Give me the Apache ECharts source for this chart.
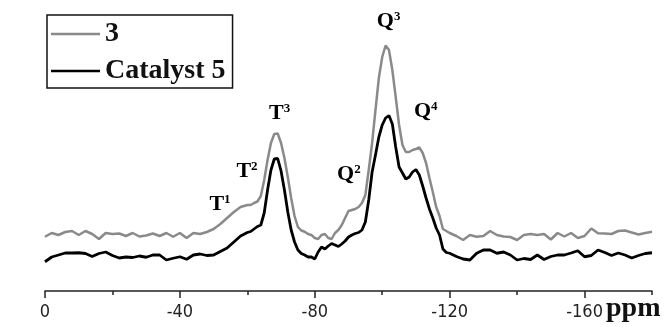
<!DOCTYPE html>
<html><head><meta charset="utf-8">
<script src="https://cdn.jsdelivr.net/npm/echarts@6/dist/echarts.min.js"></script>
<style>html,body{margin:0;padding:0;background:#fff}#c{width:665px;height:327px}</style>
</head><body><div id="c"></div>
<script>
// chemical shift (ppm)
const ppm = [0,-2,-4,-6,-8,-10,-12,-14,-16,-18,-20,-22,-24,-26,-28,-30,-32,-34,-36,-38,-40,-42,-44,-46,-48,-50,-52,-54,-56,-58,-60,
-61,-62,-63,-64,-65,-66,-67,-68,-69,-70,-71,-72,-73,-74,-75,-76,-77,-78,-79,-80,
-81,-82,-83,-84,-85,-86,-87,-88,-89,-90,-91,-92,-93,-94,-95,-96,-97,-98,-99,-100,
-101,-102,-103,-104,-105,-106,-107,-108,-109,-110,-111,-112,-113,-114,-115,-116,-117,-118,-119,-120,
-122,-124,-126,-128,-130,-132,-134,-136,-138,-140,-142,-144,-146,-148,-150,-152,-154,-156,-158,-160,
-162,-164,-166,-168,-170,-172,-174,-176,-178,-180];
// spectrum of 3 (grey)
const spec3 = [21.7,23.2,22.4,23.6,24.0,22.4,24.0,22.8,20.8,23.2,22.8,23.0,22.0,23.2,21.8,22.2,23.0,22.0,23.2,21.7,23.2,21.2,23.2,22.8,23.6,24.8,26.8,29.2,31.6,33.6,34.4,
34.4,35.2,35.8,38.0,44.4,52.4,59.2,62.8,63.0,59.2,
53.2,45.6,37.2,30.0,25.6,24.2,23.7,22.8,22.4,21.2,
20.8,22.4,22.8,21.2,20.8,23.2,24.4,26.4,29.2,32.0,
32.4,32.8,33.6,35.2,38.4,48.4,59.2,72.4,85.2,93.6,
98.2,96.4,88.4,77.6,66.4,58.4,55.6,55.6,56.4,56.8,
57.4,55.2,51.2,45.2,39.6,33.6,30.0,24.8,24.0,23.2,
22.0,20.4,22.4,21.7,22.0,24.0,22.4,21.8,21.6,20.4,22.4,22.8,22.4,22.8,20.6,23.2,21.8,23.2,21.2,22.0,
25.0,23.1,23.0,22.8,24.0,24.2,23.4,22.6,23.2,23.7];
// spectrum of Catalyst 5 (black)
const specCat5 = [11.7,13.6,14.4,15.2,15.2,15.3,15.0,13.8,15.0,15.6,14.2,13.2,13.6,13.4,14.0,13.5,14.4,14.4,12.4,13.1,13.7,12.7,14.4,14.8,14.2,14.4,15.8,17.2,19.6,22.0,23.4,
23.8,24.8,25.8,26.4,31.2,40.4,48.4,52.8,53.0,48.0,
40.4,31.6,24.4,19.6,16.4,15.0,14.4,13.6,13.6,12.8,
15.6,17.6,16.8,18.0,19.0,18.4,17.8,18.8,20.0,21.6,
22.4,23.0,23.4,24.4,27.6,36.4,47.6,54.4,61.6,66.4,
69.2,70.2,66.8,57.6,49.6,47.2,44.8,45.6,47.6,48.6,
46.4,42.0,37.2,32.8,29.2,25.2,22.4,16.8,15.4,15.1,
13.8,12.8,12.4,15.1,16.4,16.4,15.1,15.6,14.4,12.4,13.0,12.6,14.4,12.6,13.8,14.4,14.4,15.2,16.1,13.7,
14.2,16.4,15.4,14.2,15.2,14.4,13.2,14.2,15.0,15.3];
const seriesNames = ['3','Catalyst 5'];
// peak assignment labels
const peakBase = ['T','T','T','Q','Q','Q'];
const peakSup = ['1','2','3','2','3','4'];
const peakPpm = [-51.9,-59.9,-69.6,-90.1,-101.9,-112.9];
const peakInt = [34.8,48,71,46.8,108,71.8];
// axis ticks
const majorTicks = [0,-40,-80,-120,-160];
const minorTicks = [-20,-60,-100,-140,-180];

const chart = echarts.init(document.getElementById('c'), null, {renderer:'canvas'});
const serif = '"Liberation Serif","Times New Roman",serif';
const peakData = peakBase.map((b,i)=>({value:[peakPpm[i],peakInt[i]], b:b, s:peakSup[i]}));
chart.setOption({
  animation:false,
  backgroundColor:'#fff',
  grid:{left:45,right:13,top:16,bottom:36,containLabel:false},
  legend:{
    data:seriesNames, orient:'vertical', left:47, top:15,
    icon:'rect', itemWidth:49, itemHeight:2.5, itemGap:7,
    padding:[4,7,2,4], borderColor:'#111', borderWidth:1.5,
    textStyle:{fontFamily:serif, fontWeight:'bold', fontSize:28, color:'#111', lineHeight:30}
  },
  xAxis:[{
    type:'value', min:-180, max:0, inverse:true, position:'bottom',
    axisLine:{show:true, lineStyle:{color:'#222', width:1.5}},
    axisTick:{show:true, customValues:majorTicks, length:7, lineStyle:{color:'#222', width:1.5}},
    axisLabel:{show:true, customValues:majorTicks, margin:12, fontFamily:'"Liberation Sans Narrow","DejaVu Sans Condensed",sans-serif', fontSize:18, color:'#222', formatter:v=>String(v)},
    splitLine:{show:false}
  },{
    type:'value', min:-180, max:0, inverse:true, position:'bottom',
    axisLine:{show:false},
    axisTick:{show:true, customValues:minorTicks, length:4, lineStyle:{color:'#222', width:1.5}},
    axisLabel:{show:false}, splitLine:{show:false}
  }],
  yAxis:{type:'value', min:0, max:110, show:false},
  graphic:[{type:'text', left:606, top:295, style:{text:'ppm', font:'bold 28px '+serif, fill:'#111'}}],
  series:[
    {name:seriesNames[0], type:'line', xAxisIndex:0, data:ppm.map((x,i)=>[x,spec3[i]]), showSymbol:false, color:'#8a8a8a', lineStyle:{width:2.5,color:'#8a8a8a'}, z:2},
    {name:seriesNames[1], type:'line', xAxisIndex:0, data:ppm.map((x,i)=>[x,specCat5[i]]), showSymbol:false, color:'#000', lineStyle:{width:2.8,color:'#000'}, z:3},
    {name:'peaks', type:'scatter', xAxisIndex:0, data:peakData, symbolSize:0, silent:true, itemStyle:{color:'#000', opacity:1},
     label:{show:true, position:'inside', color:'#000', textBorderWidth:0, opacity:1,
       formatter:p=>'{b|'+p.data.b+'}{s|'+p.data.s+'}',
       rich:{b:{fontFamily:serif, fontWeight:'bold', fontSize:22, color:'#000', lineHeight:22},
             s:{fontFamily:serif, fontWeight:'bold', fontSize:13, color:'#000', lineHeight:22, verticalAlign:'top', padding:[0,0,8,0]}}}}
  ]
});
</script></body></html>
